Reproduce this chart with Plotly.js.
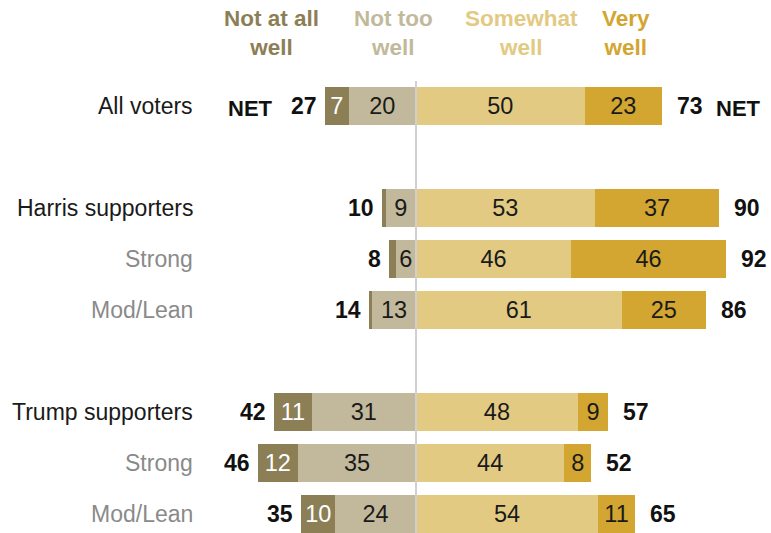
<!DOCTYPE html>
<html>
<head>
<meta charset="utf-8">
<script src="https://cdn.plot.ly/plotly-3.0.1.min.js"></script>
<style>html,body{margin:0;padding:0;background:#fff;}#chart{width:771px;height:533px;}</style>
</head>
<body>
<div id="chart"></div>
<script>
// ---- data ----
var groups = ["All voters", "Harris supporters", "Strong", "Mod/Lean", "Trump supporters", "Strong", "Mod/Lean"];
var isSub = [false, false, true, true, false, true, true];
var notAtAll = [7, 1, 2, 1, 11, 12, 10];
var notToo = [20, 9, 6, 13, 31, 35, 24];
var somewhat = [50, 53, 46, 61, 48, 44, 54];
var very = [23, 37, 46, 25, 9, 8, 11];
var netNot = [27, 10, 8, 14, 42, 46, 35];
var netWell = [73, 90, 92, 86, 57, 52, 65];
var seriesNames = ["Not at all well", "Not too well", "Somewhat well", "Very well"];
var headerText = ["Not at all<br>well", "Not too<br>well", "Somewhat<br>well", "Very<br>well"];

// ---- style ----
var colors = ["#8C7F56", "#C2B99C", "#E2CA83", "#D2A630"];
var FONT = "Liberation Sans, Arial, sans-serif";
var W = 771, H = 533;
var zeroPx = 416, pxPerUnit = 3.37;
var rowPx = 51, firstRowPx = 106;

// row positions (gap between groups)
var ypos = [];
var p = 0;
for (var i = 0; i < groups.length; i++) {
  if (i > 0) p += isSub[i] ? 1 : 2;
  ypos.push(p);
}

function lbl(arr, minV) { return arr.map(function (v) { return v >= minV ? String(v) : ""; }); }

function barTrace(vals, sign, idx, txtColor) {
  return {
    type: "bar", orientation: "h",
    y: ypos, x: vals.map(function (v) { return sign * v; }),
    name: seriesNames[idx],
    marker: { color: colors[idx], line: { width: 0 } },
    width: 0.75,
    text: lbl(vals, 3),
    textposition: "inside", insidetextanchor: "middle", textangle: 0,
    insidetextfont: { family: FONT, size: 23.5, color: txtColor },
    constraintext: "none",
    hoverinfo: "skip", showlegend: false, cliponaxis: false
  };
}

var data = [
  barTrace(notToo, -1, 1, "#1a1a1a"),
  barTrace(notAtAll, -1, 0, "#ffffff"),
  barTrace(somewhat, 1, 2, "#1a1a1a"),
  barTrace(very, 1, 3, "#1a1a1a")
];

var annotations = [];
for (var i = 0; i < groups.length; i++) {
  var leftEnd = -(notToo[i] + notAtAll[i]);
  var rightEnd = somewhat[i] + very[i];
  // category label
  annotations.push({
    xref: "paper", yref: "y", x: 195 / W, y: ypos[i], xanchor: "right", yanchor: "middle",
    text: groups[i], showarrow: false,
    font: { family: FONT, size: 23, color: isSub[i] ? "#8a8a8a" : "#1a1a1a" }
  });
  // left net
  annotations.push({
    xref: "x", yref: "y", x: leftEnd, y: ypos[i], xanchor: "right", yanchor: "middle",
    xshift: -6, text: "<b>" + netNot[i] + "</b>", showarrow: false,
    font: { family: FONT, size: 23, color: "#111" }
  });
  // right net
  annotations.push({
    xref: "x", yref: "y", x: rightEnd, y: ypos[i], xanchor: "left", yanchor: "middle",
    xshift: 13, text: "<b>" + netWell[i] + "</b>", showarrow: false,
    font: { family: FONT, size: 23, color: "#111" }
  });
}
// NET words on first row
annotations.push({
  xref: "x", yref: "y", x: -(notToo[0] + notAtAll[0]), y: ypos[0] + 0.04, xanchor: "right", yanchor: "middle",
  xshift: -50, text: "<b>NET</b>", showarrow: false, font: { family: FONT, size: 22, color: "#111" }
});
annotations.push({
  xref: "x", yref: "y", x: somewhat[0] + very[0], y: ypos[0] + 0.04, xanchor: "left", yanchor: "middle",
  xshift: 52, text: "<b>NET</b>", showarrow: false, font: { family: FONT, size: 22, color: "#111" }
});
// headers
var headerX = [271, 394, 521, 626];
for (var k = 0; k < 4; k++) {
  annotations.push({
    xref: "paper", yref: "paper", x: headerX[k] / W, y: 1 - 33 / H, xanchor: "center", yanchor: "middle",
    text: "<b>" + headerText[k] + "</b>", showarrow: false,
    font: { family: FONT, size: 22.5, color: colors[k] }
  });
}

var layout = {
  width: W, height: H,
  margin: { l: 0, r: 0, t: 0, b: 0 },
  paper_bgcolor: "#fff", plot_bgcolor: "#fff",
  barmode: "relative", bargap: 0,
  xaxis: {
    range: [-zeroPx / pxPerUnit, (W - zeroPx) / pxPerUnit],
    showgrid: false, zeroline: false, showticklabels: false, fixedrange: true
  },
  yaxis: {
    range: [(H - firstRowPx) / rowPx, -firstRowPx / rowPx],
    showgrid: false, zeroline: false, showticklabels: false, fixedrange: true
  },
  shapes: [{
    type: "line", xref: "x", yref: "y", x0: 0, x1: 0, y0: -0.49, y1: (H - firstRowPx) / rowPx,
    line: { color: "#d0d0d0", width: 2 }, layer: "above"
  }],
  annotations: annotations,
  hovermode: false,
  showlegend: false
};

Plotly.newPlot("chart", data, layout, { displayModeBar: false, staticPlot: true });
</script>
</body>
</html>
